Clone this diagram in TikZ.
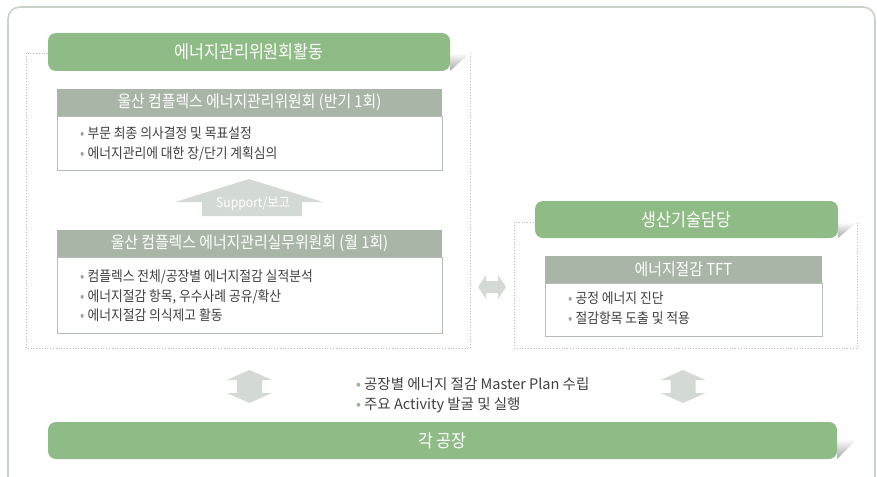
\documentclass[tikz,border=0pt]{standalone}
\usepackage{fontspec}
\newfontfamily\kr[FakeStretch=0.9]{Noto Sans CJK KR}
\newfontfamily\krw{Noto Sans CJK KR}
\usetikzlibrary{positioning}
\definecolor{gbar}{HTML}{8FBB86}
\definecolor{hdrgray}{HTML}{A9B5A7}
\definecolor{arrowfill}{HTML}{D3DAD3}
\definecolor{framec}{HTML}{C9D2C9}
\definecolor{dotc}{HTML}{BBBBBB}
\definecolor{txt}{HTML}{404040}
\definecolor{boxline}{HTML}{B4BEB4}
\definecolor{bul}{HTML}{A0A0A0}
\tikzset{
  greenbar/.style={fill=gbar, rounded corners=8pt, text=white, inner sep=0pt,
     font=\kr\fontsize{18}{20}\selectfont},
  hdrbox/.style={fill=hdrgray, text=white, inner sep=0pt, minimum height=27pt,
     font=\kr\fontsize{16.5}{18}\selectfont},
  bodybox/.style={draw=boxline, line width=0.8pt, fill=white, inner sep=0pt},
  bultext/.style={anchor=west, align=left, inner sep=0pt, text=txt,
     font=\kr\fontsize{14.2}{19.5}\selectfont},
  dotbox/.style={draw=dotc, dotted, line width=0.8pt},
  fold/.style={top color=white, bottom color=black!35},
  arr/.style={fill=arrowfill}
}
\newcommand{\bu}{{\color{bul}•}\hspace{3pt}}
\newcommand{\gbu}{{\color{gbar}•}\hspace{3pt}}
\begin{document}
\begin{tikzpicture}[x=1pt,y=-1pt]
\useasboundingbox (0,0) rectangle (877,476);
% outer frame (open at bottom)
\draw[framec, line width=1.6pt, rounded corners=12pt] (8,490) -- (8,7) -- (875,7) -- (875,490);

% ===== left group =====
\draw[dotbox] (26,53) rectangle (470,348);
\shade[fold] (450,53) -- (470,53) -- (450,71) -- cycle;
\node[greenbar, minimum width=402pt, minimum height=38pt] (ttl) at (249,52) {에너지관리위원회활동};

\node[hdrbox, minimum width=385pt] (h1) at (249.5,102.5) {울산 컴플렉스 에너지관리위원회 (반기 1회)};
\node[bodybox, minimum width=385pt, minimum height=54pt] (b1) at (249.5,143) {};
\node[bultext] (t1) at (80,144) {\bu 부문 최종 의사결정 및 목표설정\\ \bu 에너지관리에 대한 장/단기 계획심의};

\fill[arr] (175,202) -- (249,179) -- (323,202) -- (302,202) -- (302,216) -- (202,216) -- (202,202) -- cycle;
\node[text=white, font=\kr\fontsize{13.5}{15}\selectfont, inner sep=0pt] (sup) at (253,204) {Support/보고};

\node[hdrbox, minimum width=385pt] (h2) at (249.5,243.5) {울산 컴플렉스 에너지관리실무위원회 (월 1회)};
\node[bodybox, minimum width=385pt, minimum height=76pt] (b2) at (249.5,295) {};
\node[bultext] (t2) at (80,296) {\bu 컴플렉스 전체/공장별 에너지절감 실적분석\\ \bu 에너지절감 항목, 우수사례 공유/확산\\ \bu 에너지절감 의식제고 활동};

% ===== right group =====
\draw[dotbox] (514,222) rectangle (857,348);
\shade[fold] (838,222) -- (857,222) -- (838,238) -- cycle;
\node[greenbar, minimum width=303pt, minimum height=37pt] (ttl2) at (686.5,219.5) {생산기술담당};
\node[hdrbox, minimum width=277pt] (h3) at (683.5,269.5) {에너지절감 TFT};
\node[bodybox, minimum width=277pt, minimum height=53pt] (b3) at (683.5,309.5) {};
\node[bultext] (t3) at (568,308) {\bu 공정 에너지 진단\\ \bu 절감항목 도출 및 적용};

% horizontal double arrow
\fill[arr] (478,287) -- (486,275) -- (486,281) -- (498,281) -- (498,275) -- (506,287) -- (498,299) -- (498,293) -- (486,293) -- (486,299) -- cycle;

% vertical double arrows
\foreach \cx in {249.5,683} {
  \fill[arr] (\cx,370) -- ({\cx+22.5},380) -- ({\cx+12.5},380) -- ({\cx+12.5},393) -- ({\cx+22.5},393) -- (\cx,403) -- ({\cx-22.5},393) -- ({\cx-12.5},393) -- ({\cx-12.5},380) -- ({\cx-22.5},380) -- cycle;
}

\node[bultext, font=\krw\fontsize{14.5}{20}\selectfont] (t4) at (356,395) {\gbu 공장별 에너지 절감 Master Plan 수립\\ \gbu 주요 Activity 발굴 및 실행};

% bottom bar
\shade[fold] (837,439) -- (857,439) -- (837,459) -- cycle;
\node[greenbar, minimum width=789pt, minimum height=37pt] (plant) at (442.5,440.5) {각 공장};
\end{tikzpicture}
\end{document}
